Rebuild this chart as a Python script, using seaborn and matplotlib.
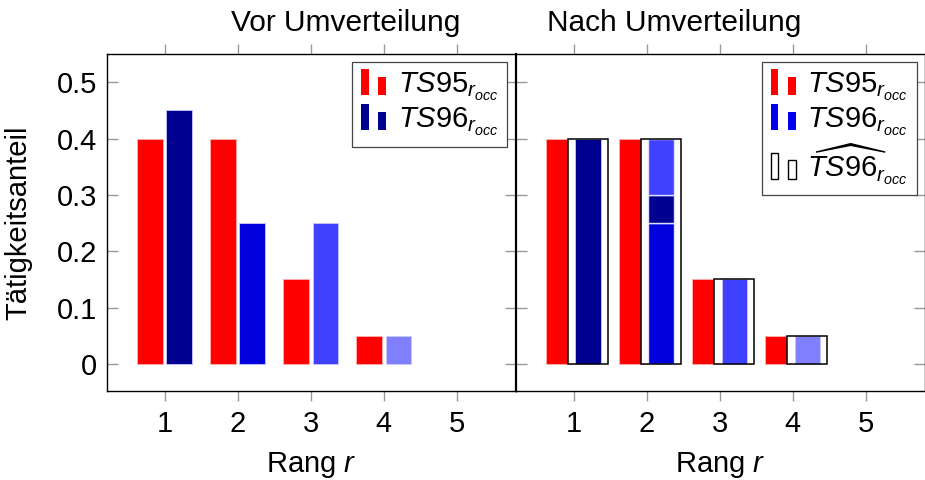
import numpy as np
import pandas as pd
import seaborn as sns
import matplotlib.pyplot as plt
from matplotlib.patches import Patch, Rectangle
from matplotlib.legend_handler import HandlerBase

sns.set_style("ticks")
plt.rcParams["font.family"] = ["Liberation Sans", "DejaVu Sans"]
plt.rcParams["mathtext.fontset"] = "custom"
plt.rcParams["mathtext.rm"] = "Liberation Sans"
plt.rcParams["mathtext.it"] = "Liberation Sans:italic"
plt.rcParams["mathtext.bf"] = "Liberation Sans:bold"
plt.rcParams["mathtext.sf"] = "Liberation Sans"
plt.rcParams["text.color"] = "black"
plt.rcParams["axes.labelcolor"] = "black"
plt.rcParams["xtick.labelcolor"] = "black"
plt.rcParams["ytick.labelcolor"] = "black"

# ---- data -------------------------------------------------------------
ranks = [1, 2, 3, 4, 5]
ranks_used = [1, 2, 3, 4]
ts95 = [0.40, 0.40, 0.15, 0.05]
ts96_vor = [0.45, 0.25, 0.25, 0.05]
ts96_nach = [0.40, 0.40, 0.15, 0.05]
ts96_hat = [0.40, 0.40, 0.15, 0.05]
# share of rank 2 after redistribution, by origin rank (stacked bottom-up)
rang2_anteile = [0.25, 0.05, 0.10]
rang2_herkunft = [2, 1, 3]

yticks = [0, 0.1, 0.2, 0.3, 0.4, 0.5]
ytick_labels = ["0", "0.1", "0.2", "0.3", "0.4", "0.5"]
titles = ["Vor Umverteilung", "Nach Umverteilung"]
lab95 = r"$TS95_{r_{occ}}$"
lab96 = r"$TS96_{r_{occ}}$"
lab96hat = r"$\widehat{TS96}_{r_{occ}}$"

# ---- colours ----------------------------------------------------------
red = "#FF0000"
blue_by_rank = {1: "#000090", 2: "#0000DD", 3: "#4040FF", 4: "#8080FF"}
fs = 21

fig = plt.figure(figsize=(9.25, 4.8), dpi=100)
W, H = 925, 480
bottom = 1 - 391 / H
height = 337 / H
ax1 = fig.add_axes([107 / W, bottom, 409 / W, height])
ax2 = fig.add_axes([516 / W, bottom, 409 / W, height], sharey=ax1)


class PairBarHandler(HandlerBase):
    """Legend glyph made of two small bars, tall then short."""

    def create_artists(self, legend, orig_handle, xdescent, ydescent,
                       width, height, fontsize, trans):
        fc = orig_handle.get_facecolor()
        ec = orig_handle.get_edgecolor()
        lw = orig_handle.get_linewidth()
        bw = width * 0.3
        y0 = -ydescent - 0.1 * height
        r1 = Rectangle((-xdescent, y0), bw, height * 1.25,
                       facecolor=fc, edgecolor=ec, linewidth=lw, transform=trans)
        r2 = Rectangle((-xdescent + width * 0.7, y0), bw, height * 0.9,
                       facecolor=fc, edgecolor=ec, linewidth=lw, transform=trans)
        return [r1, r2]


def draw_panel(ax, blue_vals):
    df = pd.DataFrame({
        "Rang": ranks_used * 2,
        "Anteil": ts95 + blue_vals,
        "Serie": ["TS95"] * 4 + ["TS96"] * 4,
    })
    sns.barplot(data=df, x="Rang", y="Anteil", hue="Serie", order=ranks,
                hue_order=["TS95", "TS96"], palette=[red, blue_by_rank[1]],
                dodge=True, gap=0.12, width=0.8, legend=False, ax=ax,
                linewidth=0.6, edgecolor="white", saturation=1)
    red_bars, blue_bars = ax.containers[0], ax.containers[1]
    for p in red_bars:
        p.set_facecolor(red)
        p.set_edgecolor("#FFB0B0")
        p.set_zorder(2)
    for p, r in zip(blue_bars, ranks_used):
        p.set_facecolor(blue_by_rank[r])
        p.set_edgecolor("#C8C8FF")
        p.set_zorder(4)
    return red_bars, blue_bars


# ---- left panel: before redistribution ---------------------------------
draw_panel(ax1, ts96_vor)

# ---- right panel: after redistribution ---------------------------------
red_bars, blue_bars = draw_panel(ax2, ts96_nach)
centers = [p.get_x() + p.get_width() / 2 for p in blue_bars]
bw = blue_bars[0].get_width()

# estimated distribution: white box behind the blue bars, outline on top
ax2.bar(centers, ts96_hat, width=0.55, facecolor="white", edgecolor="none",
        zorder=3)
ax2.bar(centers, ts96_hat, width=0.55, facecolor="none", edgecolor="black",
        linewidth=1.1, zorder=5)

# rank 2 is composed of shares coming from ranks 2, 1 and 3
c2 = centers[1]
bottoms = np.concatenate([[0], np.cumsum(rang2_anteile)[:-1]])
ax2.bar([c2] * len(rang2_anteile), rang2_anteile, bottom=bottoms, width=bw,
        color=[blue_by_rank[r] for r in rang2_herkunft], edgecolor="#E0E0FF",
        linewidth=1.0, zorder=4.5)

# ---- axes styling ------------------------------------------------------
for ax in (ax1, ax2):
    ax.set_xlim(-0.79, 4.81)
    ax.set_ylim(-0.048, 0.55)
    ax.set_xticks(range(len(ranks)))
    ax.set_xticklabels([str(r) for r in ranks])
    ax.set_yticks(yticks)
    ax.tick_params(axis="x", direction="out", top=True, bottom=True,
                   length=7.5, width=1, color="#999999", labelsize=fs, pad=6)
    ax.tick_params(axis="y", direction="in", left=True, right=True,
                   length=8, width=1, color="#999999", labelsize=fs, pad=7)
    for s in ax.spines.values():
        s.set_visible(True)
        s.set_color("black")
        s.set_linewidth(1.0)
    ax.set_xlabel(r"Rang $r$", fontsize=fs, labelpad=9)
    ax.set_ylabel("")

ax2.spines["left"].set_linewidth(1.6)
ax1.set_yticklabels(ytick_labels)
ax2.tick_params(axis="y", labelleft=False)
ax1.set_ylabel("Tätigkeitsanteil", fontsize=fs, labelpad=18)

fig.text(0.374, 0.935, titles[0], fontsize=21.5, ha="center", va="baseline")
fig.text(0.729, 0.935, titles[1], fontsize=21.5, ha="center", va="baseline")

# ---- legends -----------------------------------------------------------
hmap = {Patch: PairBarHandler()}
leg_kw = dict(loc="upper right", borderaxespad=0, fontsize=fs,
              handlelength=0.85, handletextpad=0.4, labelspacing=0.1,
              borderpad=0.3, fancybox=False, framealpha=1,
              edgecolor="#444444", handler_map=hmap)

h95 = Patch(facecolor=red, edgecolor="none")
leg1 = ax1.legend([h95, Patch(facecolor=blue_by_rank[1], edgecolor="none")],
                  [lab95, lab96], bbox_to_anchor=(0.978, 0.976), **leg_kw)
leg1.get_frame().set_linewidth(0.9)
leg1.set_zorder(10)

leg2 = ax2.legend([h95, Patch(facecolor="#0000EE", edgecolor="none"),
                   Patch(facecolor="white", edgecolor="black", linewidth=1.0)],
                  [lab95, lab96, lab96hat],
                  bbox_to_anchor=(0.980, 0.976), **leg_kw)
leg2.get_frame().set_linewidth(0.9)
leg2.set_zorder(10)

fig.savefig("out.png", dpi=100)
